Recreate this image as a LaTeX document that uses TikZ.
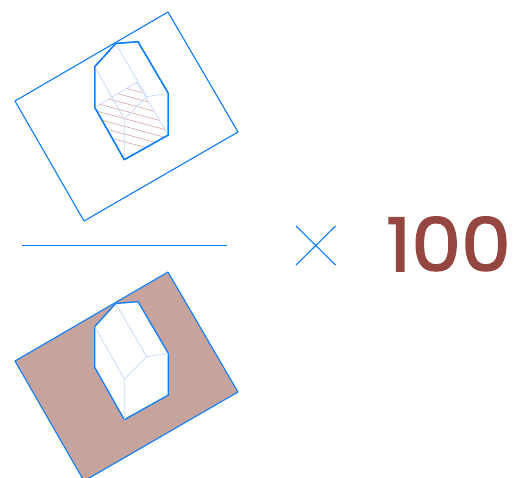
\documentclass[tikz,border=0pt]{standalone}
\usepackage{fontspec}
\newfontfamily\numberfont[FakeBold=2,FakeStretch=1.07]{Poppins}
\definecolor{outlineblue}{RGB}{10,125,250}
\definecolor{creaseblue}{RGB}{195,218,250}
\definecolor{rust}{RGB}{150,70,65}
\definecolor{shadefill}{RGB}{199,163,158}
\definecolor{hatchred}{RGB}{215,165,165}
\tikzset{
  sheet/.style={draw=outlineblue, line width=1.1pt, line join=round},
  housebody/.style={draw=outlineblue, line width=1.3pt, line join=round, fill=white},
  crease/.style={draw=creaseblue, line width=0.7pt},
  hatchline/.style={draw=hatchred, line width=0.6pt},
  thinrule/.style={draw=outlineblue, line width=1.1pt},
  bignumber/.style={text=rust, inner sep=0pt, anchor=base east, font=\numberfont\fontsize{74}{74}\selectfont},
}

\begin{document}
\begin{tikzpicture}[x=1pt, y=-1pt]
  \useasboundingbox (0,0) rectangle (513,477);
  \clip (0,0) rectangle (513,477);

  % ── Top sheet with hatched floor ──
  \draw[sheet] (15,101) -- (168,12) -- (238,132) -- (84,221) -- cycle;
  \draw[housebody] (115.7,43.5) -- (138,41.7) -- (168.3,93.3) -- (168.3,135) -- (124.3,159.7) -- (94.7,107.3) -- (94.7,66.7) -- cycle;
  \begin{scope}
    \clip (94.7,107.3) -- (136.7,82.3) -- (168.3,135) -- (124.3,159.7) -- cycle;
    \foreach \ystart in {40,47.7,...,140} {
      \draw[hatchline] (90,\ystart) -- (175,\ystart+23);
    }
  \end{scope}
  \draw[crease] (115.7,43.5) -- (146.7,96.7) -- (168.3,93.3);
  \draw[crease] (94.7,66.7) -- (124.3,119) -- (124.3,159.7);
  \draw[crease] (124.3,119) -- (146.7,96.7);
  \draw[crease] (94.7,107.3) -- (136.7,82.3) -- (168.3,135);
  \draw[housebody, fill=none] (115.7,43.5) -- (138,41.7) -- (168.3,93.3) -- (168.3,135) -- (124.3,159.7) -- (94.7,107.3) -- (94.7,66.7) -- cycle;

  % ── Rule, cross and number ──
  \draw[thinrule] (22,245.5) -- (227,245.5);
  \draw[thinrule] (296,226) -- (335.5,265);
  \draw[thinrule] (335.5,226) -- (296,265);
  \node[bignumber] (hundred) at (511,271) {100};

  % ── Bottom sheet, shaded ──
  \draw[sheet, fill=shadefill] (15,361) -- (168,272) -- (238,392) -- (84,481) -- cycle;
  \draw[housebody] (115.7,303.5) -- (138,301.7) -- (168.3,353.3) -- (168.3,395) -- (124.3,419.7) -- (94.7,367.3) -- (94.7,326.7) -- cycle;
  \draw[crease] (115.7,303.5) -- (146.7,356.7) -- (168.3,353.3);
  \draw[crease] (94.7,326.7) -- (124.3,379) -- (124.3,419.7);
  \draw[crease] (124.3,379) -- (146.7,356.7);

\end{tikzpicture}
\end{document}
